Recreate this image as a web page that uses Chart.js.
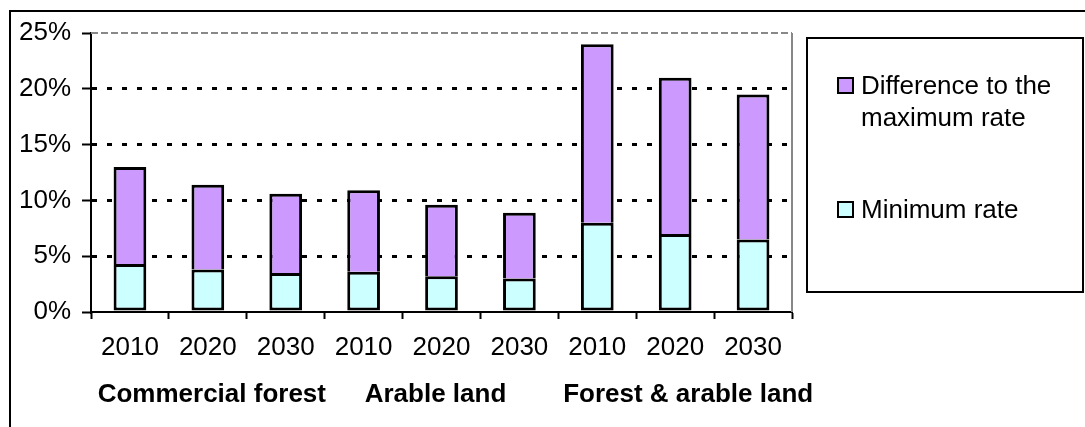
<!DOCTYPE html>
<html>
<head>
<meta charset="utf-8">
<script src="https://cdn.jsdelivr.net/npm/chart.js@4/dist/chart.umd.min.js"></script>
<style>
  html, body { margin: 0; padding: 0; background: #fff; }
  #wrap { width: 1085px; height: 427px; position: relative; }
</style>
</head>
<body>
<div id="wrap"><canvas id="chart" width="1085" height="427"></canvas></div>
<script>
// Years per land-use group
const categories = ['2010', '2020', '2030', '2010', '2020', '2030', '2010', '2020', '2030'];
const groups = ['Commercial forest', 'Arable land', 'Forest & arable land'];
// Rates in percent
const minimumRate = [4.3, 3.8, 3.5, 3.6, 3.2, 3.0, 8.0, 7.0, 6.5];
const differenceToMax = [8.7, 7.6, 7.1, 7.3, 6.4, 5.9, 16.0, 14.0, 13.0];
const yTicks = [0, 5, 10, 15, 20, 25];

const FONT = '"Liberation Sans", Arial, sans-serif';
const FS = 26;

// Outer frame, plot-area border, group captions and the boxed legend
const decorations = {
  id: 'decorations',
  beforeDraw(chart) {
    const ctx = chart.ctx;
    ctx.save();
    ctx.fillStyle = '#fff';
    ctx.fillRect(0, 0, chart.width, chart.height);
    ctx.strokeStyle = '#000';
    ctx.lineWidth = 2;
    ctx.beginPath();
    ctx.moveTo(10, chart.height + 5);
    ctx.lineTo(10, 11);
    ctx.lineTo(chart.width + 5, 11);
    ctx.stroke();
    ctx.restore();
  },
  beforeDatasetsDraw(chart) {
    const ctx = chart.ctx;
    const a = chart.chartArea;
    ctx.save();
    ctx.strokeStyle = '#888';
    ctx.lineWidth = 2;
    ctx.beginPath();
    ctx.moveTo(a.right, a.top);
    ctx.lineTo(a.right, a.bottom);
    ctx.stroke();
    ctx.setLineDash([7, 3]);
    ctx.beginPath();
    ctx.moveTo(a.left, a.top);
    ctx.lineTo(a.right, a.top);
    ctx.stroke();
    ctx.restore();
  },
  afterDraw(chart) {
    const ctx = chart.ctx;
    const x = chart.scales.x;
    ctx.save();
    // group captions below the years
    ctx.font = 'bold ' + FS + 'px ' + FONT;
    ctx.fillStyle = '#000';
    ctx.textAlign = 'center';
    ctx.textBaseline = 'alphabetic';
    const nudge = [4, -6, 13];
    groups.forEach((g, i) => {
      const c = (x.getPixelForValue(i * 3) + x.getPixelForValue(i * 3 + 2)) / 2;
      ctx.fillText(g, c + nudge[i], 402);
    });

    // legend box
    ctx.lineWidth = 2;
    ctx.strokeStyle = '#000';
    ctx.fillStyle = '#fff';
    ctx.fillRect(807, 38, 276, 254);
    ctx.strokeRect(807, 38, 276, 254);
    ctx.font = FS + 'px ' + FONT;
    ctx.textAlign = 'left';
    const ds = chart.data.datasets;
    const entries = [
      { d: ds[1], lines: ['Difference to the', 'maximum rate'], base: 94 },
      { d: ds[0], lines: ['Minimum rate'], base: 218 }
    ];
    entries.forEach(e => {
      ctx.fillStyle = e.d.backgroundColor;
      ctx.fillRect(838, e.base - 16, 15, 15);
      ctx.lineWidth = 2;
      ctx.strokeStyle = '#000';
      ctx.strokeRect(838, e.base - 16, 15, 15);
      ctx.fillStyle = '#000';
      e.lines.forEach((t, k) => ctx.fillText(t, 861, e.base + k * 32));
    });
    ctx.restore();
  }
};

new Chart(document.getElementById('chart'), {
  type: 'bar',
  data: {
    labels: categories,
    datasets: [
      {
        label: 'Minimum rate',
        data: minimumRate,
        backgroundColor: '#CCFFFF',
        borderColor: '#000',
        borderWidth: 3,
        borderSkipped: false,
        barPercentage: 0.42,
        categoryPercentage: 1
      },
      {
        label: 'Difference to the maximum rate',
        data: differenceToMax,
        backgroundColor: '#CC99FF',
        borderColor: '#000',
        borderWidth: 3,
        borderSkipped: 'start',
        barPercentage: 0.42,
        categoryPercentage: 1
      }
    ]
  },
  options: {
    responsive: false,
    animation: false,
    events: [],
    layout: { padding: { left: 0, right: 293, top: 33, bottom: 0 } },
    plugins: { legend: { display: false }, tooltip: { enabled: false } },
    scales: {
      x: {
        stacked: true,
        offset: true,
        afterFit(s) { s.height = 115; },
        grid: {
          display: true,
          offset: true,
          drawOnChartArea: false,
          drawTicks: true,
          tickLength: 7,
          tickColor: '#000',
          tickWidth: 2,
          color: '#000'
        },
        border: { display: true, color: '#000', width: 2 },
        ticks: {
          color: '#000',
          font: { family: FONT, size: FS },
          padding: 13,
          maxRotation: 0,
          autoSkip: false
        }
      },
      y: {
        stacked: true,
        min: 0,
        max: 25,
        afterFit(s) { s.width = 91; },
        afterBuildTicks(s) { s.ticks = yTicks.map(v => ({ value: v })); },
        grid: {
          drawTicks: true,
          tickLength: 9,
          tickColor: '#000',
          tickWidth: 2,
          lineWidth: 3,
          color: ctx => (ctx.tick && (ctx.tick.value === 0 || ctx.tick.value === 25)) ? 'rgba(0,0,0,0)' : '#000'
        },
        border: { display: true, color: '#000', width: 2, dash: [5, 10] },
        ticks: {
          color: '#000',
          font: { family: FONT, size: FS },
          padding: 11,
          callback: v => v + '%'
        }
      }
    }
  },
  plugins: [decorations]
});
</script>
</body>
</html>
